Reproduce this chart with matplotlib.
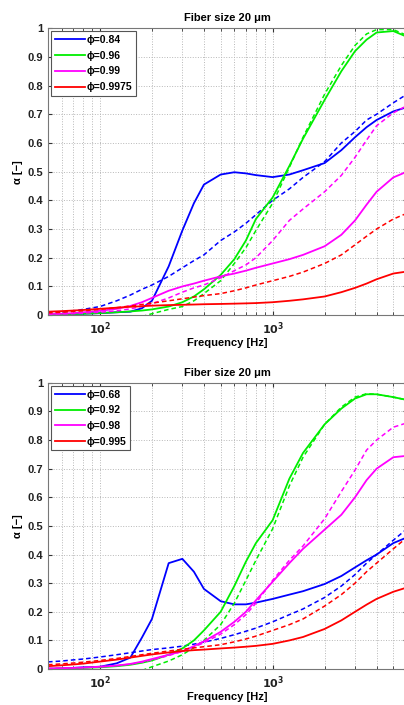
import numpy as np
import matplotlib
matplotlib.use('Agg')
import matplotlib.pyplot as plt

plt.rcParams['font.family'] = ['Liberation Sans', 'DejaVu Sans']
plt.rcParams['font.weight'] = 'bold'
plt.rcParams['font.size'] = 8

freq = [50, 60, 70, 80, 100, 125, 150, 175, 200, 250, 300, 350, 400, 500, 600, 700,
        800, 1000, 1250, 1500, 2000, 2500, 3000, 3500, 4000, 5000, 6000]
nan = np.nan

# painel superior
labels_top = ['ϕ=0.84', 'ϕ=0.96', 'ϕ=0.99', 'ϕ=0.9975']
top_solid = [
    [0.003, 0.003, 0.004, 0.005, 0.007, 0.010, 0.012, 0.024, 0.050, 0.170, 0.295, 0.390, 0.455, 0.490, 0.498,
     0.494, 0.488, 0.481, 0.490, 0.505, 0.530, 0.575, 0.620, 0.655, 0.680, 0.710, 0.725],
    [0.002, 0.003, 0.004, 0.005, 0.007, 0.010, 0.013, 0.016, 0.020, 0.030, 0.045, 0.065, 0.090, 0.140, 0.195,
     0.260, 0.335, 0.410, 0.520, 0.615, 0.750, 0.850, 0.920, 0.960, 0.985, 0.990, 0.970],
    [0.004, 0.005, 0.007, 0.010, 0.015, 0.022, 0.032, 0.045, 0.060, 0.085, 0.100, 0.110, 0.120, 0.135, 0.145,
     0.155, 0.165, 0.180, 0.195, 0.210, 0.240, 0.280, 0.330, 0.385, 0.430, 0.480, 0.500],
    [0.012, 0.014, 0.016, 0.018, 0.022, 0.026, 0.029, 0.031, 0.033, 0.035, 0.036, 0.037, 0.038, 0.039, 0.040,
     0.041, 0.042, 0.045, 0.050, 0.055, 0.065, 0.080, 0.095, 0.110, 0.125, 0.145, 0.152],
]
top_dashed = [
    [0.005, 0.010, 0.015, 0.020, 0.030, 0.050, 0.070, 0.090, 0.105, 0.135, 0.165, 0.190, 0.210, 0.260, 0.290,
     0.320, 0.350, 0.400, 0.440, 0.480, 0.535, 0.600, 0.640, 0.680, 0.700, 0.740, 0.770],
    [nan, nan, nan, nan, nan, nan, nan, -0.005, 0.005, 0.020, 0.030, 0.050, 0.075, 0.120, 0.180,
     0.235, 0.295, 0.390, 0.515, 0.620, 0.770, 0.870, 0.940, 0.980, 0.995, 0.995, 0.975],
    [0.003, 0.004, 0.005, 0.007, 0.010, 0.015, 0.022, 0.030, 0.040, 0.060, 0.080, 0.095, 0.105, 0.130, 0.155,
     0.175, 0.200, 0.260, 0.330, 0.370, 0.430, 0.487, 0.550, 0.610, 0.660, 0.705, 0.730],
    [0.008, 0.010, 0.013, 0.015, 0.020, 0.026, 0.032, 0.037, 0.042, 0.050, 0.057, 0.063, 0.068, 0.075, 0.085,
     0.095, 0.105, 0.120, 0.135, 0.150, 0.180, 0.210, 0.245, 0.275, 0.300, 0.335, 0.355],
]

# painel inferior
labels_bot = ['ϕ=0.68', 'ϕ=0.92', 'ϕ=0.98', 'ϕ=0.995']
bot_solid = [
    [0.000, 0.002, 0.004, 0.006, 0.008, 0.020, 0.040, 0.110, 0.175, 0.370, 0.385, 0.340, 0.280, 0.237, 0.226,
     0.226, 0.232, 0.245, 0.260, 0.272, 0.297, 0.325, 0.355, 0.380, 0.400, 0.440, 0.460],
    [0.001, 0.002, 0.003, 0.004, 0.006, 0.010, 0.015, 0.022, 0.030, 0.050, 0.072, 0.100, 0.135, 0.200, 0.290,
     0.375, 0.440, 0.520, 0.665, 0.755, 0.855, 0.910, 0.945, 0.960, 0.960, 0.950, 0.940],
    [0.002, 0.003, 0.004, 0.005, 0.008, 0.012, 0.018, 0.026, 0.035, 0.050, 0.062, 0.080, 0.097, 0.130, 0.165,
     0.200, 0.240, 0.305, 0.370, 0.420, 0.487, 0.539, 0.600, 0.660, 0.700, 0.740, 0.745],
    [0.010, 0.013, 0.016, 0.019, 0.026, 0.033, 0.040, 0.046, 0.051, 0.058, 0.063, 0.066, 0.068, 0.072, 0.075,
     0.078, 0.081, 0.088, 0.100, 0.112, 0.140, 0.170, 0.200, 0.225, 0.245, 0.270, 0.285],
]
bot_dashed = [
    [0.025, 0.028, 0.032, 0.035, 0.042, 0.050, 0.057, 0.063, 0.068, 0.074, 0.080, 0.087, 0.094, 0.107, 0.120,
     0.132, 0.143, 0.165, 0.190, 0.210, 0.250, 0.290, 0.330, 0.370, 0.400, 0.450, 0.490],
    [nan, nan, nan, nan, nan, nan, nan, -0.005, 0.008, 0.028, 0.050, 0.075, 0.100, 0.155, 0.230,
     0.310, 0.380, 0.490, 0.640, 0.740, 0.855, 0.915, 0.950, 0.962, 0.960, 0.950, 0.940],
    [0.002, 0.003, 0.004, 0.005, 0.008, 0.012, 0.017, 0.024, 0.032, 0.047, 0.062, 0.077, 0.092, 0.122, 0.155,
     0.190, 0.230, 0.310, 0.380, 0.430, 0.525, 0.620, 0.695, 0.765, 0.800, 0.845, 0.860],
    [0.015, 0.018, 0.021, 0.024, 0.030, 0.037, 0.044, 0.050, 0.055, 0.063, 0.069, 0.074, 0.078, 0.085, 0.095,
     0.105, 0.115, 0.135, 0.155, 0.175, 0.220, 0.260, 0.300, 0.340, 0.370, 0.420, 0.460],
]

cores = ['#0000ff', '#00ee00', '#ff00ff', '#ff0000']

fig = plt.figure(figsize=(4.04, 7.05), dpi=100)
ax1 = fig.add_axes([0.1188, 0.553, 0.8886, 0.407])
ax2 = fig.add_axes([0.1188, 0.051, 0.8886, 0.406])


def desenha(ax, solidos, tracejados, rotulos):
    for s, d, c, r in zip(solidos, tracejados, cores, rotulos):
        ax.plot(freq, s, '-', color=c, lw=1.3, label=r)
        ax.plot(freq, d, '--', color=c, lw=1.1, dashes=(3, 2))
    ax.set_xscale('log')
    ax.set_xlim(50, 6000)
    ax.set_ylim(0, 1)
    ax.set_yticks(np.arange(0, 1.01, 0.1))
    ax.set_yticklabels(['0', '0.1', '0.2', '0.3', '0.4', '0.5', '0.6', '0.7', '0.8', '0.9', '1'])
    ax.set_xticks([100, 1000])
    ax.set_xticklabels([r'$\mathbf{10^2}$', r'$\mathbf{10^3}$'])
    ax.grid(True, which='major', ls=':', color='#b8b8b8', lw=0.7)
    ax.grid(True, which='minor', axis='x', ls=':', color='#b8b8b8', lw=0.7)
    ax.tick_params(which='both', direction='in', top=True, right=True, colors='#333333', labelcolor='#222222')
    ax.tick_params(which='major', length=3)
    ax.tick_params(which='minor', length=2)
    for sp in ax.spines.values():
        sp.set_color('#777777')
    ax.set_title('Fiber size 20 μm', fontsize=8, fontweight='bold', pad=5)
    ax.set_xlabel('Frequency [Hz]', fontsize=8, fontweight='bold', labelpad=1)
    ax.set_ylabel('α [−]', fontsize=8, fontweight='bold', labelpad=3)
    leg = ax.legend(loc='upper left', fontsize=7.5, handlelength=2.9, handletextpad=0.15,
                    borderpad=0.35, labelspacing=0.55, fancybox=False, framealpha=1,
                    borderaxespad=0.3)
    leg.get_frame().set_edgecolor('#555555')
    leg.get_frame().set_linewidth(0.8)


desenha(ax1, top_solid, top_dashed, labels_top)
desenha(ax2, bot_solid, bot_dashed, labels_bot)

fig.savefig('out.png', dpi=100)
